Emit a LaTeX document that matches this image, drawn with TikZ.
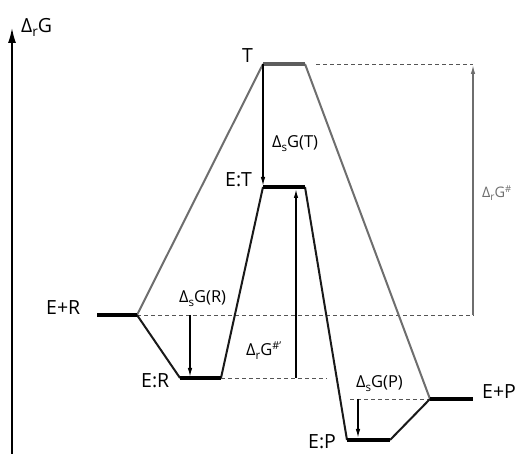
\documentclass[tikz,border=0pt]{standalone}
\usepackage{fontspec}
\setmainfont{Open Sans}
\usetikzlibrary{arrows.meta}
\newcommand\lowsub[1]{\raisebox{-0.35ex}{\scalebox{0.7}{#1}}}
\newcommand\highsup[1]{\raisebox{0.75ex}{\scalebox{0.65}{#1}}}
\definecolor{gcol}{HTML}{6E6E6E}
\definecolor{dcol}{HTML}{555555}
\begin{document}
\begin{tikzpicture}[x=1pt,y=-1pt,
  grayline/.style={draw=gcol,line width=2pt,line join=round},
  blackline/.style={draw=black!90,line width=2pt,line join=round},
  plateau/.style={line width=4.4pt},
  dashline/.style={draw=dcol,line width=0.8pt,dash pattern=on 4pt off 3pt},
  arrowline/.style={draw=black,line width=1.3pt,-{Latex[length=9pt,width=4.5pt]}},
  grayarrow/.style={draw=gcol,line width=1.3pt,-{Latex[length=9pt,width=4.5pt]}},
  lbl/.style={font=\fontsize{19.5}{19.5}\selectfont,anchor=base west,inner sep=0pt},
  slbl/.style={font=\fontsize{16.5}{16.5}\selectfont,anchor=base west,inner sep=0pt},
  glbl/.style={font=\fontsize{14.5}{14.5}\selectfont,anchor=base west,inner sep=0pt,text=gcol}]
\useasboundingbox (0,0) rectangle (520,454);
% key points
\coordinate (axB) at (12,454);
\coordinate (axT) at (12,28);
\coordinate (ERl) at (97,315);
\coordinate (ERr) at (137,315);
\coordinate (ECl) at (180,378);
\coordinate (ECr) at (221,378);
\coordinate (Tl) at (263,64);
\coordinate (Tr) at (305,64);
\coordinate (ETl) at (263,187);
\coordinate (ETr) at (305,187);
\coordinate (EPl) at (347,440);
\coordinate (EPr) at (390,440);
\coordinate (PPl) at (430,399);
\coordinate (PPr) at (473,399);
\coordinate (dT1) at (316,64);
\coordinate (dT2) at (473,64);
\coordinate (dR2) at (474,315);
\coordinate (dC2) at (327,378);
\coordinate (dP1) at (350,399);
\coordinate (gA1) at (473,315);
\coordinate (gA2) at (473,65);
\coordinate (aR1) at (190,315);
\coordinate (aR2) at (190,377);
\coordinate (aC1) at (296,378);
\coordinate (aC2) at (296,189);
\coordinate (aP1) at (358,399);
\coordinate (aP2) at (358,438);
\coordinate (aT2) at (263,186);
% axis
\draw[line width=1.5pt,-{Latex[length=15pt,width=8pt]}] (axB) -- (axT);
% dashed guides
\draw[dashline] (dT1) -- (dT2);
\draw[dashline] (ERr) -- (dR2);
\draw[dashline] (ECr) -- (dC2);
\draw[dashline] (dP1) -- (PPl);
% uncatalysed path (gray)
\draw[grayline] (ERr) -- (Tl);
\draw[grayline] (Tr) -- (PPl);
\draw[draw=gcol!85!black,plateau] (Tl) -- (Tr);
% catalysed path (black)
\draw[blackline] (ERr) -- (ECl);
\draw[blackline] (ECr) -- (ETl);
\draw[blackline] (ETr) -- (EPl);
\draw[blackline] (EPr) -- (PPl);
\draw[plateau] (ERl) -- (ERr);
\draw[plateau] (ECl) -- (ECr);
\draw[plateau] (ETl) -- (ETr);
\draw[plateau] (EPl) -- (EPr);
\draw[plateau] (PPl) -- (PPr);
% arrows
\draw[grayarrow] (gA1) -- (gA2);
\draw[arrowline] (aR1) -- (aR2);
\draw[arrowline] (Tl) -- (aT2);
\draw[arrowline] (aC1) -- (aC2);
\draw[arrowline] (aP1) -- (aP2);
% labels
\node[lbl] (lAx) at (21,33) {Δ\lowsub{r}G};
\node[lbl] (lER) at (46,315) {E+R};
\node[lbl] (lEC) at (141,388) {E:R};
\node[lbl] (lT) at (242,63) {T};
\node[lbl] (lET) at (225,187) {E:T};
\node[lbl] (lEP) at (308,449) {E:P};
\node[lbl] (lPP) at (482,399) {E+P};
\node[slbl] (lsR) at (179,303) {Δ\lowsub{s}G(R)};
\node[slbl] (lsT) at (272,148) {Δ\lowsub{s}G(T)};
\node[slbl] (lsP) at (356,388) {Δ\lowsub{s}G(P)};
\node[slbl] (lrC) at (246,356) {Δ\lowsub{r}G\highsup{\#’}};
\node[glbl] (lrG) at (482,198) {Δ\lowsub{r}G\highsup{\#}};
\end{tikzpicture}
\end{document}
